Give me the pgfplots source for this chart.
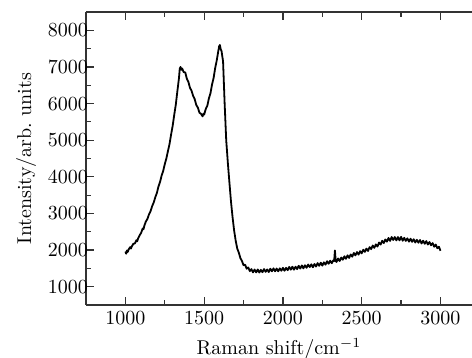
\documentclass[border=0pt]{standalone}
\usepackage{pgfplots}
\pgfplotsset{compat=1.18}
\begin{document}
\begin{tikzpicture}
\begin{axis}[
  scale only axis,
  width=193pt, height=146.5pt,
  xmin=750, xmax=3200,
  ymin=500, ymax=8500,
  axis x line*=box,
  axis y line*=left,
  xtick={1000,1500,2000,2500,3000},
  ytick={1000,2000,3000,4000,5000,6000,7000,8000},
  minor x tick num=1,
  minor y tick num=1,
  tick align=inside,
  major tick length=4pt,
  minor tick length=2.5pt,
  axis line style={line width=0.6pt, black!80},
  every tick/.style={line width=0.6pt, black!80},
  scaled ticks=false,
  xticklabel style={/pgf/number format/1000 sep={}},
  yticklabel style={/pgf/number format/1000 sep={}, xshift=4.5pt},
  xlabel={Raman shift/cm$^{-1}$},
  ylabel={Intensity/arb.\ units},
  ylabel style={xshift=0pt, yshift=-1pt},
  clip=false,
]
\coordinate (sw) at (rel axis cs:0,0);
\coordinate (ne) at (rel axis cs:1,1);
\addplot[black, line width=0.9pt, line join=round] coordinates {
(1000,1960)(1005,1900)(1010,1990)(1015,1950)(1020,2010)(1030,2080)(1035,2040)(1040,2090)(1050,2170)(1060,2180)
(1070,2270)(1075,2240)(1080,2310)(1090,2400)(1100,2470)(1110,2590)(1115,2570)(1120,2660)(1130,2780)(1140,2850)
(1150,2975)(1160,3065)(1170,3200)(1180,3300)(1190,3445)(1200,3560)(1210,3735)(1220,3860)
(1230,4035)(1240,4160)(1250,4345)(1260,4500)(1270,4700)(1280,4890)(1290,5150)(1300,5390)
(1310,5690)(1320,5970)(1330,6340)(1340,6690)(1345,6950)(1350,7000)(1355,6920)(1360,6960)
(1370,6860)(1380,6850)(1390,6680)(1400,6590)(1410,6430)(1420,6350)(1430,6210)(1440,6120)
(1450,5960)(1460,5890)(1470,5750)(1480,5720)(1490,5650)(1495,5720)(1500,5700)(1510,5850)
(1520,5940)(1530,6140)(1540,6280)(1550,6520)(1560,6700)(1570,6970)(1580,7180)(1590,7440)
(1595,7560)(1600,7600)(1605,7480)(1610,7440)(1620,7150)(1630,6000)(1640,5000)(1650,4400)
(1660,3860)(1670,3340)(1680,2910)(1690,2540)(1700,2260)(1710,2040)(1720,1930)(1730,1780)
(1740,1700)(1750,1585)(1760,1600)(1770,1490)(1780,1525)(1790,1425)(1800,1480)(1810,1390)
(1820,1470)(1830,1390)(1840,1470)(1850,1385)(1860,1460)(1870,1395)(1880,1480)(1890,1405)
(1900,1470)(1910,1400)(1920,1490)(1930,1420)(1940,1500)(1950,1420)(1960,1495)(1970,1420)
(1980,1500)(1990,1435)(2000,1515)(2010,1435)(2020,1515)(2030,1450)(2040,1540)(2050,1465)
(2060,1545)(2070,1465)(2080,1545)(2090,1480)(2100,1570)(2110,1495)(2120,1580)(2130,1500)
(2140,1585)(2150,1515)(2160,1605)(2170,1535)(2180,1610)(2190,1530)(2200,1620)(2210,1550)
(2220,1645)(2230,1570)(2240,1655)(2250,1575)(2260,1665)(2270,1600)(2280,1695)(2290,1625)
(2300,1710)(2310,1640)(2320,1720)(2325,1700)(2330,1990)(2335,1700)(2340,1675)(2350,1770)
(2360,1700)(2370,1795)(2380,1735)(2390,1830)(2400,1760)(2410,1855)(2420,1785)(2430,1880)
(2440,1820)(2450,1920)(2460,1855)(2470,1945)(2480,1875)(2490,1970)(2500,1910)(2510,2010)
(2520,1950)(2530,2040)(2540,1975)(2550,2080)(2560,2025)(2570,2125)(2580,2060)(2590,2155)
(2600,2095)(2610,2205)(2620,2150)(2630,2255)(2640,2190)(2650,2290)(2660,2230)(2670,2330)
(2680,2250)(2690,2355)(2700,2275)(2710,2355)(2720,2265)(2730,2355)(2740,2265)(2750,2360)
(2760,2255)(2770,2335)(2780,2250)(2790,2320)(2800,2230)(2810,2310)(2820,2225)(2830,2295)
(2840,2205)(2850,2280)(2860,2200)(2870,2275)(2880,2180)(2890,2255)(2900,2170)(2910,2245)
(2920,2150)(2930,2220)(2940,2130)(2950,2190)(2960,2090)(2970,2150)(2980,2050)(2990,2090)
(3000,1980)
};
\end{axis}
\pgfresetboundingbox
\useasboundingbox ([shift={(-43pt,-26.5pt)}]sw) rectangle ([shift={(0pt,6pt)}]ne);
\end{tikzpicture}
\end{document}
